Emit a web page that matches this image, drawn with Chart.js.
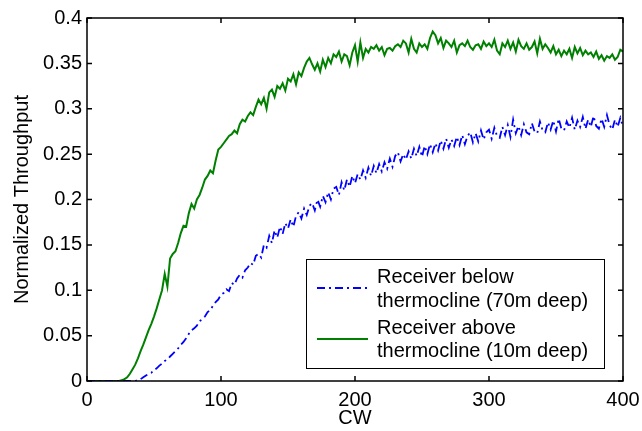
<!DOCTYPE html>
<html>
<head>
<meta charset="utf-8">
<script src="https://cdn.jsdelivr.net/npm/chart.js@4/dist/chart.umd.min.js"></script>
<style>
  html, body { margin: 0; padding: 0; background: #fff; }
  canvas { display: block; }
</style>
</head>
<body>
<canvas id="chart" width="642" height="431"></canvas>
<script>
// ---------------- DATA ----------------
// CW values (x axis), sampled every 2
const cw = [
  0, 2, 4, 6, 8, 10, 12, 14, 16, 18,
  20, 22, 24, 26, 28, 30, 32, 34, 36, 38,
  40, 42, 44, 46, 48, 50, 52, 54, 56, 58,
  60, 62, 64, 66, 68, 70, 72, 74, 76, 78,
  80, 82, 84, 86, 88, 90, 92, 94, 96, 98,
  100, 102, 104, 106, 108, 110, 112, 114, 116, 118,
  120, 122, 124, 126, 128, 130, 132, 134, 136, 138,
  140, 142, 144, 146, 148, 150, 152, 154, 156, 158,
  160, 162, 164, 166, 168, 170, 172, 174, 176, 178,
  180, 182, 184, 186, 188, 190, 192, 194, 196, 198,
  200, 202, 204, 206, 208, 210, 212, 214, 216, 218,
  220, 222, 224, 226, 228, 230, 232, 234, 236, 238,
  240, 242, 244, 246, 248, 250, 252, 254, 256, 258,
  260, 262, 264, 266, 268, 270, 272, 274, 276, 278,
  280, 282, 284, 286, 288, 290, 292, 294, 296, 298,
  300, 302, 304, 306, 308, 310, 312, 314, 316, 318,
  320, 322, 324, 326, 328, 330, 332, 334, 336, 338,
  340, 342, 344, 346, 348, 350, 352, 354, 356, 358,
  360, 362, 364, 366, 368, 370, 372, 374, 376, 378,
  380, 382, 384, 386, 388, 390, 392, 394, 396, 398,
  400
];

// Receiver below thermocline (70m deep)
const belowThroughput = [
  0, 0, 0, 0, 0, 0, 0, 0, 0, 0,
  0, 0, 0, 0, 0, 0, 0, 0, 0, 0.001,
  0.002, 0.004, 0.006, 0.008, 0.009, 0.012, 0.014, 0.017, 0.019, 0.022,
  0.024, 0.027, 0.030, 0.033, 0.036, 0.040, 0.043, 0.047, 0.052, 0.056,
  0.058, 0.061, 0.066, 0.068, 0.071, 0.076, 0.078, 0.083, 0.087, 0.090,
  0.095, 0.097, 0.101, 0.099, 0.108, 0.106, 0.113, 0.117, 0.114, 0.122,
  0.125, 0.130, 0.128, 0.138, 0.140, 0.136, 0.150, 0.147, 0.160, 0.152,
  0.166, 0.158, 0.170, 0.162, 0.174, 0.168, 0.178, 0.170, 0.182, 0.186,
  0.179, 0.190, 0.183, 0.193, 0.196, 0.188, 0.200, 0.192, 0.204, 0.197,
  0.208, 0.200, 0.212, 0.214, 0.205, 0.219, 0.210, 0.222, 0.214, 0.226,
  0.218, 0.228, 0.222, 0.232, 0.224, 0.235, 0.226, 0.237, 0.229, 0.239,
  0.231, 0.241, 0.234, 0.245, 0.236, 0.248, 0.252, 0.242, 0.250, 0.244,
  0.253, 0.245, 0.256, 0.248, 0.258, 0.247, 0.259, 0.250, 0.261, 0.252,
  0.262, 0.254, 0.265, 0.256, 0.267, 0.257, 0.266, 0.259, 0.269, 0.260,
  0.271, 0.261, 0.270, 0.274, 0.263, 0.273, 0.264, 0.276, 0.266, 0.274,
  0.277, 0.267, 0.279, 0.270, 0.268, 0.280, 0.271, 0.282, 0.269, 0.288,
  0.273, 0.281, 0.271, 0.283, 0.274, 0.272, 0.284, 0.275, 0.273, 0.286,
  0.276, 0.274, 0.285, 0.277, 0.287, 0.275, 0.289, 0.278, 0.276, 0.286,
  0.279, 0.290, 0.277, 0.287, 0.280, 0.291, 0.278, 0.288, 0.280, 0.292,
  0.281, 0.278, 0.289, 0.280, 0.293, 0.282, 0.277, 0.288, 0.280, 0.290,
  0.280
];

// Receiver above thermocline (10m deep)
const aboveThroughput = [
  0, 0, 0, 0, 0, 0, 0, 0, 0, 0,
  0, 0, 0, 0.001, 0.002, 0.004, 0.008, 0.013, 0.018, 0.025,
  0.033, 0.040, 0.048, 0.056, 0.063, 0.071, 0.080, 0.090, 0.100, 0.118,
  0.104, 0.135, 0.140, 0.143, 0.152, 0.163, 0.171, 0.170, 0.185, 0.195,
  0.190, 0.200, 0.205, 0.213, 0.222, 0.226, 0.232, 0.229, 0.243, 0.255,
  0.258, 0.262, 0.266, 0.270, 0.272, 0.276, 0.273, 0.283, 0.288, 0.286,
  0.292, 0.296, 0.293, 0.302, 0.310, 0.305, 0.312, 0.300, 0.318, 0.321,
  0.313, 0.325, 0.322, 0.328, 0.320, 0.333, 0.330, 0.338, 0.327, 0.340,
  0.336, 0.345, 0.352, 0.356, 0.349, 0.343, 0.350, 0.341, 0.354, 0.346,
  0.356, 0.350, 0.360, 0.357, 0.363, 0.352, 0.360, 0.358, 0.348, 0.362,
  0.370, 0.352, 0.373, 0.356, 0.366, 0.362, 0.368, 0.366, 0.370, 0.364,
  0.368, 0.359, 0.366, 0.367, 0.364, 0.369, 0.371, 0.368, 0.375, 0.372,
  0.362, 0.377, 0.366, 0.362, 0.372, 0.368, 0.371, 0.366, 0.378, 0.385,
  0.381, 0.372, 0.378, 0.367, 0.375, 0.372, 0.368, 0.375, 0.362, 0.370,
  0.372, 0.369, 0.375, 0.368, 0.365, 0.370, 0.371, 0.366, 0.374, 0.369,
  0.372, 0.368, 0.376, 0.364, 0.360, 0.372, 0.368, 0.375, 0.366, 0.373,
  0.363, 0.376, 0.369, 0.366, 0.372, 0.365, 0.368, 0.374, 0.361, 0.377,
  0.366, 0.371, 0.367, 0.362, 0.369, 0.360, 0.365, 0.358, 0.364, 0.360,
  0.366, 0.356, 0.368, 0.361, 0.367, 0.359, 0.364, 0.360, 0.362, 0.357,
  0.363, 0.355, 0.359, 0.353, 0.358, 0.356, 0.360, 0.354, 0.357, 0.365,
  0.363
];

const seriesNames = [
  ["Receiver below", "thermocline (70m deep)"],
  ["Receiver above", "thermocline (10m deep)"]
];
const xTicks = [0, 100, 200, 300, 400];
const yTicks = [0, 0.05, 0.1, 0.15, 0.2, 0.25, 0.3, 0.35, 0.4];

const FONT = "'Liberation Sans', Arial, Helvetica, sans-serif";

// ---------------- FRAME: box + inward ticks + legend ----------------
const framePlugin = {
  id: 'frame',
  afterDraw(chart) {
    const { ctx, chartArea: a, scales } = chart;
    const xs = scales.x, ys = scales.y;
    const tl = 5;
    ctx.save();
    ctx.strokeStyle = '#000';
    ctx.lineWidth = 1.5;
    ctx.setLineDash([]);
    ctx.strokeRect(a.left, a.top, a.right - a.left, a.bottom - a.top);
    ctx.beginPath();
    xTicks.forEach(v => {
      const px = xs.getPixelForValue(v);
      ctx.moveTo(px, a.bottom); ctx.lineTo(px, a.bottom - tl);
      ctx.moveTo(px, a.top); ctx.lineTo(px, a.top + tl);
    });
    yTicks.forEach(v => {
      const py = ys.getPixelForValue(v);
      ctx.moveTo(a.left, py); ctx.lineTo(a.left + tl, py);
      ctx.moveTo(a.right, py); ctx.lineTo(a.right - tl, py);
    });
    ctx.stroke();

    // legend box (lower right, inside plot)
    const lx = 306, ly = 259, lw = 298, lh = 109;
    ctx.fillStyle = '#fff';
    ctx.fillRect(lx, ly, lw, lh);
    ctx.lineWidth = 1;
    ctx.strokeRect(lx + 0.5, ly + 0.5, lw, lh);

    ctx.font = '20px ' + FONT;
    ctx.fillStyle = '#000';
    ctx.textAlign = 'left';
    ctx.textBaseline = 'middle';
    const rows = [[277, 301, 288], [328, 351, 339]];
    chart.data.datasets.forEach((ds, i) => {
      const [t1, t2, sy] = rows[i];
      ctx.strokeStyle = ds.borderColor;
      ctx.lineWidth = ds.borderWidth;
      ctx.setLineDash(ds.borderDash || []);
      ctx.beginPath();
      ctx.moveTo(317, sy); ctx.lineTo(368, sy);
      ctx.stroke();
      ctx.setLineDash([]);
      ctx.fillText(seriesNames[i][0], 377, t1);
      ctx.fillText(seriesNames[i][1], 377, t2);
    });
    ctx.restore();
  }
};

new Chart(document.getElementById('chart'), {
  type: 'line',
  data: {
    datasets: [
      {
        label: seriesNames[0].join(' '),
        data: cw.map((x, i) => ({ x: x, y: belowThroughput[i] })),
        borderColor: 'rgb(0,0,255)',
        borderWidth: 1.8,
        borderDash: [8, 4, 2, 4],
        pointRadius: 0,
        tension: 0,
        fill: false
      },
      {
        label: seriesNames[1].join(' '),
        data: cw.map((x, i) => ({ x: x, y: aboveThroughput[i] })),
        borderColor: 'rgb(0,128,0)',
        borderWidth: 2,
        pointRadius: 0,
        tension: 0,
        fill: false
      }
    ]
  },
  options: {
    responsive: false,
    animation: false,
    devicePixelRatio: 1,
    layout: { padding: { top: 18, right: 19, left: 0, bottom: 0 } },
    plugins: { legend: { display: false }, tooltip: { enabled: false } },
    scales: {
      x: {
        type: 'linear',
        min: 0, max: 400,
        afterBuildTicks: s => { s.ticks = xTicks.map(v => ({ value: v })); },
        afterFit: s => { s.height = 50; s.paddingLeft = 0; s.paddingRight = 0; },
        grid: { display: false, drawTicks: false },
        border: { display: false },
        ticks: { color: '#000', font: { family: FONT, size: 20 }, padding: 7, maxRotation: 0 },
        title: { display: true, text: 'CW', color: '#000', font: { family: FONT, size: 20 }, padding: { top: 0, bottom: 1 } }
      },
      y: {
        min: 0, max: 0.4,
        afterBuildTicks: s => { s.ticks = yTicks.map(v => ({ value: v })); },
        afterFit: s => { s.width = 87; s.paddingTop = 0; s.paddingBottom = 0; },
        grid: { display: false, drawTicks: false },
        border: { display: false },
        ticks: { color: '#000', font: { family: FONT, size: 20 }, padding: 5, callback: v => String(+v.toFixed(2)) },
        title: { display: true, text: 'Normalized Throughput', color: '#000', font: { family: FONT, size: 20 }, padding: { top: 10, bottom: 0 } }
      }
    }
  },
  plugins: [framePlugin]
});
</script>
</body>
</html>
